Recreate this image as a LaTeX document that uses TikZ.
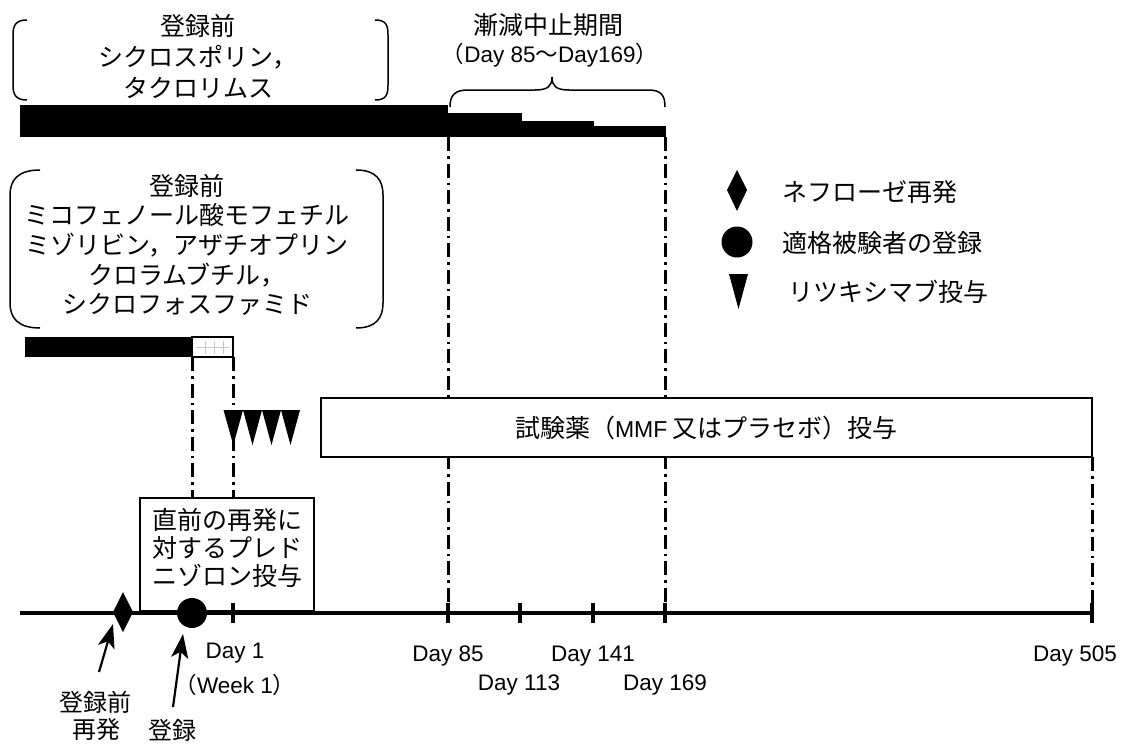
\documentclass[tikz,border=0pt]{standalone}
\usepackage{fontspec}
\setmainfont{Liberation Sans}
\newfontfamily\jp{Noto Sans CJK JP}
\usetikzlibrary{arrows.meta}
\begin{document}
\begin{tikzpicture}[x=1pt,y=-1pt,
  jtxt/.style={font=\jp\fontsize{25}{30}\selectfont, inner sep=0pt, align=center},
  ltxt/.style={font=\fontsize{22.5}{27}\selectfont, inner sep=0pt},
  ddash/.style={line width=3pt, dash pattern=on 14pt off 5pt on 2.5pt off 5pt},
  brk/.style={line width=1.5pt},
  tickmark/.style={line width=4pt},
  boxd/.style={draw, line width=1.8pt, fill=white, inner sep=0pt},
  arr/.style={-{Stealth[length=24pt,width=17pt,inset=6pt]}, line width=2.2pt}]
\useasboundingbox (0,0) rectangle (1124,744);

% ---------- group 1 ----------
\node[jtxt, font=\jp\fontsize{25}{31}\selectfont] (g1) at (198,56) {登録前\\シクロスポリン，\\タクロリムス};
\draw[brk] (27,20) .. controls (16,20) and (13,25) .. (13,35) -- (13,85) .. controls (13,95) and (16,100) .. (27,100);
\draw[brk] (375,20) .. controls (386,20) and (388,25) .. (388,35) -- (388,85) .. controls (388,95) and (386,100) .. (375,100);
\fill (20,105) rectangle (448,137);
\fill (448,113) rectangle (522,137);
\fill (522,121) rectangle (594,137);
\fill (594,126) rectangle (666,137);
\coordinate (b85) at (448,137);
\coordinate (b169) at (665,137);

% brace
\node[jtxt] (tap) at (548,25) {漸減中止期間};
\node[ltxt] (tapd) at (550,55) {{\jp （}Day 85{\jp 〜}Day169{\jp ）}};
\draw[brk] (450,107) .. controls (450,95) and (455,90) .. (468,90) -- (535,90) .. controls (548,90) and (552,86) .. (552,77)
  .. controls (552,86) and (556,90) .. (569,90) -- (648,90) .. controls (661,90) and (665,95) .. (665,107);

% ---------- group 2 ----------
\node[jtxt, font=\jp\fontsize{25}{29.7}\selectfont] (g2) at (187,245) {登録前\\ミコフェノール酸モフェチル\\ミゾリビン，アザチオプリン\\クロラムブチル，\\シクロフォスファミド};
\draw[brk] (40,170) .. controls (18,170) and (10,180) .. (10,195) -- (10,303) .. controls (10,318) and (18,328) .. (40,328);
\draw[brk] (356,170) .. controls (376,170) and (383,180) .. (383,195) -- (383,303) .. controls (383,318) and (376,328) .. (356,328);
\fill (25,337) rectangle (192,357);
\draw[line width=1.3pt, fill=white] (192,337) rectangle (233,357);
\draw[gray!45, line width=0.5pt] (205,341) -- (205,354) (214,341) -- (214,354) (223,341) -- (223,354) (196,347) -- (229,347);
\coordinate (b2a) at (192,357);
\coordinate (b2b) at (233,357);

% ---------- axis coordinates ----------
\coordinate (ax0) at (20,613);
\coordinate (ax1) at (1092,613);
\coordinate (t1) at (233,613);
\coordinate (t85) at (448,613);
\coordinate (t113) at (520,613);
\coordinate (t141) at (593,613);
\coordinate (t169) at (665,613);
\coordinate (t505) at (1092,613);

% dash-dot lines
\draw[ddash] (b85) -- (t85);
\draw[ddash] (b169) -- (t169);
\draw[ddash] (1092,457) -- (t505);

% test drug box
\node[boxd, minimum width=771pt, minimum height=59pt] (tb) at (706.5,427.5) {};
\node[jtxt] (tbt) at (tb.center) {試験薬（\fontspec{Liberation Sans}\fontsize{23}{27}\selectfont MMF\jp\fontsize{25}{30}\selectfont\ 又はプラセボ）投与};

% prednisone box
\node[boxd, minimum width=174pt, minimum height=113pt] (pb) at (227,554.5) {};
\node[jtxt, font=\jp\fontsize{25}{28.3}\selectfont] (pbt) at (227,548) {直前の再発に\\対するプレド\\ニゾロン投与};
\draw[ddash] (b2a) -- (pb.north -| b2a);
\draw[ddash] (b2b) -- (pb.north -| b2b);

% rituximab triangles
\fill (223.5,410) -- (243,410) -- (233.3,445) -- cycle;
\fill (243,410) -- (262,410) -- (252.5,445) -- cycle;
\fill (262,410) -- (281,410) -- (271.5,445) -- cycle;
\fill (281,410) -- (300,410) -- (290.5,445) -- cycle;

% axis
\draw[line width=4.5pt] (ax0) -- (ax1);
\foreach \c in {t1,t85,t113,t141,t169,t505} \draw[tickmark] ([yshift=-10pt]\c) -- ([yshift=10pt]\c);

% events
\fill (113,612) -- (123,592) -- (133,612) -- (123,632) -- cycle;
\coordinate (rel) at (113,624);
\node[circle, fill, minimum size=30pt, inner sep=0pt] (enr) at (192,613) {};

% arrows and labels
\coordinate (a1s) at (99,672);
\coordinate (a2s) at (173,707);
\coordinate (a2e) at (183,634);
\draw[arr] (a1s) -- (rel);
\draw[arr] (a2s) -- (a2e);
\node[jtxt, font=\jp\fontsize{24}{28}\selectfont] (l1) at (95,702) {登録前};
\node[jtxt, font=\jp\fontsize{24}{28}\selectfont] (l2) at (96,729) {再発};
\node[jtxt, font=\jp\fontsize{24}{28}\selectfont] (l3) at (172,730) {登録};

% day labels
\node[ltxt] (d1) at (235,653) {Day 1};
\node[ltxt] (w1) at (235,685) {{\jp （}Week 1{\jp ）}};
\node[ltxt] (d85) at (448,656) {Day 85};
\node[ltxt] (d113) at (519,685) {Day 113};
\node[ltxt] (d141) at (593,656) {Day 141};
\node[ltxt] (d169) at (665,685) {Day 169};
\node[ltxt] (d505) at (1075,656) {Day 505};

% legend
\fill (727,190) -- (737,170) -- (747,190) -- (737,211) -- cycle;
\node[circle, fill, minimum size=31pt, inner sep=0pt] (lgc) at (737,242) {};
\fill (729,274) -- (748,274) -- (738.5,309) -- cycle;
\node[jtxt, anchor=west] (lg1) at (782,192) {ネフローゼ再発};
\node[jtxt, anchor=west] (lg2) at (782,243) {適格被験者の登録};
\node[jtxt, anchor=west] (lg3) at (788,292) {リツキシマブ投与};
\end{tikzpicture}
\end{document}
